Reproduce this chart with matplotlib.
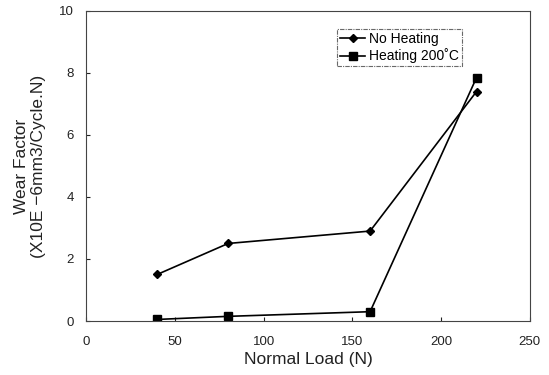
import matplotlib
matplotlib.use("Agg")
import matplotlib.pyplot as plt

plt.rcParams['font.family'] = ['Liberation Sans', 'DejaVu Sans']

loads = [40, 80, 160, 220]
no_heating = [1.5, 2.5, 2.9, 7.4]
heating_200 = [0.05, 0.15, 0.3, 7.85]
x_ticks = [0, 50, 100, 150, 200, 250]
y_ticks = [0, 2, 4, 6, 8, 10]

fig = plt.figure(figsize=(5.49, 3.75), dpi=100)
ax = fig.add_axes([0.157, 0.144, 0.808, 0.827])

ax.plot(loads, no_heating, color='black', marker='D', markersize=4, lw=1.2, label='No Heating')
ax.plot(loads, heating_200, color='black', marker='s', markersize=5.5, lw=1.2, label='Heating 200\u02daC')

ax.set_xlim(0, 250)
ax.set_ylim(0, 10)
ax.set_xticks(x_ticks)
ax.set_yticks(y_ticks)
ax.tick_params(direction='in', length=3, labelsize=9.5, colors='#222222')
ax.tick_params(axis='x', pad=11)
ax.tick_params(axis='y', pad=9)
for s in ax.spines.values():
    s.set_linestyle((0, (6, 1, 1, 1)))
    s.set_color('#444444')
    s.set_linewidth(0.8)

ax.set_xlabel('Normal Load (N)', fontsize=12.5, color='#222222', labelpad=3)
ax.set_ylabel('Wear Factor\n(X10E \u22126mm3/Cycle.N)', fontsize=12.5, color='#222222', linespacing=1.2, labelpad=9)

leg = ax.legend(loc='upper right', bbox_to_anchor=(0.847, 0.942), fontsize=10, frameon=True,
                fancybox=False, edgecolor='#444444', handlelength=1.8, handletextpad=0.3,
                borderpad=0.2, labelspacing=0.2, borderaxespad=0)
leg.get_frame().set_linestyle((0, (4, 1, 1, 1)))
leg.get_frame().set_linewidth(0.8)

fig.savefig('out.png', dpi=100)
